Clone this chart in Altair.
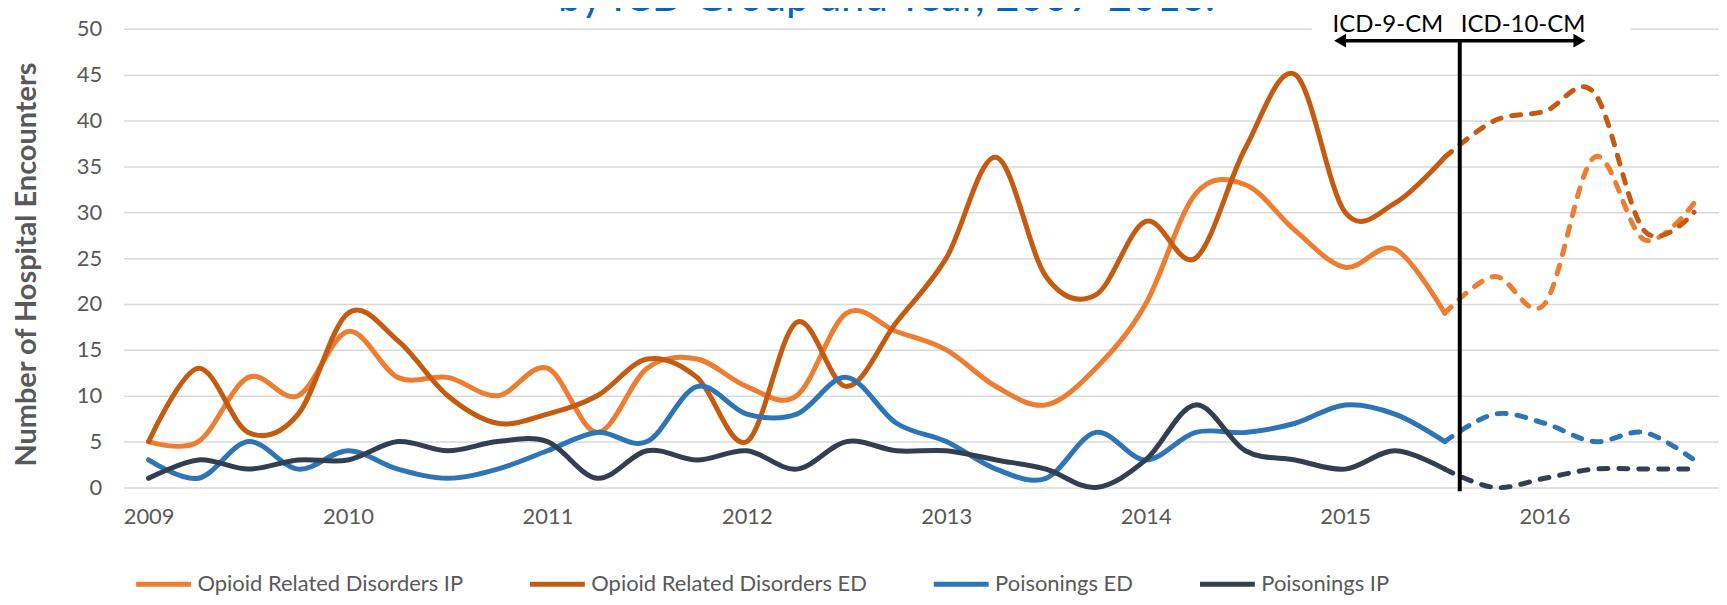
import altair as alt
import pandas as pd

# ---------------- data (quarterly, 2009 Q1 .. 2016 Q4) ----------------
quarter_index = list(range(32))
year_tick_values = [0, 4, 8, 12, 16, 20, 24, 28]
year_labels = ["2009", "2010", "2011", "2012", "2013", "2014", "2015", "2016"]

series_names = [
    "Opioid Related Disorders IP",
    "Opioid Related Disorders ED",
    "Poisonings ED",
    "Poisonings IP",
]
series_colors = ["#ED7D31", "#C55A11", "#2E75B6", "#333F50"]

opioid_ip = [5, 5, 12, 10, 17, 12, 12, 10, 13, 6, 13, 14, 11, 10, 19, 17,
             15, 11, 9, 13, 20, 32, 33, 28, 24, 26, 19, 23, 20, 36, 27, 31]
opioid_ed = [5, 13, 6, 8, 19, 16, 10, 7, 8, 10, 14, 12, 5, 18, 11, 18,
             25, 36, 23, 21, 29, 25, 37, 45, 30, 31, 36, 40, 41, 43, 28, 30]
poison_ed = [3, 1, 5, 2, 4, 2, 1, 2, 4, 6, 5, 11, 8, 8, 12, 7,
             5, 2, 1, 6, 3, 6, 6, 7, 9, 8, 5, 8, 7, 5, 6, 3]
poison_ip = [1, 3, 2, 3, 3, 5, 4, 5, 5, 1, 4, 3, 4, 2, 5, 4,
             4, 3, 2, 0, 3, 9, 4, 3, 2, 4, 2, 0, 1, 2, 2, 2]

all_values = [opioid_ip, opioid_ed, poison_ed, poison_ip]

last_icd9_quarter = 26          # last plotted quarter coded in ICD-9-CM
icd_transition = 26.3           # position of the ICD-9 / ICD-10 divider
icd_labels = ["ICD-9-CM", "ICD-10-CM"]
icd_label_x = [24.86, 27.57]
title_text = "by ICD Group and Year, 2009-2016."

# ---------------- tables ----------------
rows = []
for name, vals in zip(series_names, all_values):
    for q, v in zip(quarter_index, vals):
        rows.append({"q": q, "series": name, "value": v})
df = pd.DataFrame(rows)

FONT = "Lato"
GRAY = "#595959"

x_scale = alt.Scale(domain=[-0.5, 31.5], nice=False, zero=False)
y_scale = alt.Scale(domain=[0, 50], nice=False)
color_scale = alt.Scale(domain=series_names, range=series_colors)

label_expr = "[" + ",".join("'%s'" % s for s in year_labels) + "][datum.value / 4]"

x_axis = alt.Axis(
    values=year_tick_values, labelExpr=label_expr, title=None, grid=False,
    domain=False, ticks=False, labelFont=FONT, labelFontSize=22,
    labelColor=GRAY, labelPadding=19,
)
y_axis = alt.Axis(
    values=list(range(0, 51, 5)), title="Number of Hospital Encounters",
    grid=True, gridColor="#D9D9D9", gridWidth=1.5, domain=False, ticks=False,
    labelFont=FONT, labelFontSize=22, labelColor=GRAY, labelPadding=22,
    titleFont=FONT, titleFontSize=29, titleFontWeight="bold", titleColor=GRAY,
    titleAngle=270, titleX=-97, titleY=236, titleAlign="center",
    titleBaseline="middle",
)
legend = alt.Legend(
    title=None, orient="bottom", offset=17, padding=10, direction="horizontal",
    columns=4, columnPadding=56, symbolType="stroke", symbolSize=3025,
    symbolStrokeWidth=5, symbolDash=[1, 0], labelFont=FONT, labelFontSize=22,
    labelColor=GRAY, labelLimit=500, labelOffset=4,
)


def X(field="x"):
    return alt.X(field + ":Q", scale=x_scale, axis=x_axis)


def Y(field="y"):
    return alt.Y(field + ":Q", scale=y_scale, axis=y_axis)


color_enc = alt.Color("series:N", scale=color_scale, legend=legend,
                      sort=series_names)

solid_df = df[df["q"] <= last_icd9_quarter]
dashed_df = df[df["q"] >= last_icd9_quarter]

solid = alt.Chart(solid_df).mark_line(
    interpolate="cardinal", strokeWidth=5, strokeCap="round"
).encode(x=X("q"), y=Y("value"), color=color_enc)

dashed = alt.Chart(dashed_df).mark_line(
    interpolate="cardinal", strokeWidth=5, strokeDash=[9, 11], strokeCap="round"
).encode(x=X("q"), y=Y("value"), color=color_enc)

# ---------------- annotations ----------------
box_df = pd.DataFrame({"x": [23.33], "x2": [29.73], "y": [48.8], "y2": [51.5]})
white_box = alt.Chart(box_df).mark_rect(color="white").encode(
    x=X(), x2="x2", y=Y(), y2="y2"
)

vline_df = pd.DataFrame({"x": [icd_transition], "y": [-0.4], "y2": [48.7]})
vline = alt.Chart(vline_df).mark_rule(color="black", strokeWidth=4).encode(
    x=X(), y=Y(), y2="y2"
)

arrow_df = pd.DataFrame({"x": [23.95], "x2": [28.65], "y": [48.7]})
arrow_line = alt.Chart(arrow_df).mark_rule(color="black", strokeWidth=3.5).encode(
    x=X(), x2="x2", y=Y()
)
left_head_df = pd.DataFrame({"x": [23.9], "y": [48.7]})
right_head_df = pd.DataFrame({"x": [28.7], "y": [48.7]})
left_head = alt.Chart(left_head_df).mark_point(
    shape="triangle-left", filled=True, color="black", opacity=1, size=190
).encode(x=X(), y=Y())
right_head = alt.Chart(right_head_df).mark_point(
    shape="triangle-right", filled=True, color="black", opacity=1, size=190
).encode(x=X(), y=Y())

icd_df = pd.DataFrame({"x": icd_label_x, "y": [50.45, 50.45], "label": icd_labels})
icd_text = alt.Chart(icd_df).mark_text(
    font=FONT, fontSize=24, color="black", baseline="middle", align="center"
).encode(x=X(), y=Y(), text="label:N")

title_df = pd.DataFrame({"x": [14.8], "y": [51.95], "label": [title_text]})
title_mark = alt.Chart(title_df).mark_text(
    font=FONT, fontSize=42, color="#0563C1", baseline="alphabetic", align="center"
).encode(x=X(), y=Y(), text="label:N")

chart = alt.layer(
    solid, dashed, white_box, icd_text, arrow_line, left_head, right_head,
    vline, title_mark
).properties(
    width=1600, height=460,
    background="white",
    autosize=alt.AutoSizeParams(type="none"),
    padding={"left": 116, "top": 20, "right": 0, "bottom": 109},
).configure_view(stroke=None)

chart.save("out.html", embed_options={"renderer": "svg", "actions": False})
